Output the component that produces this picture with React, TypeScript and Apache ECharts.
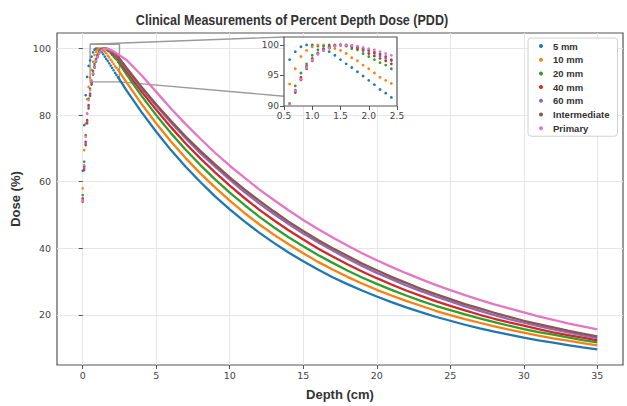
import React, { useEffect, useRef } from "react";
import * as echarts from "echarts";

const titleText = "Clinical Measurements of Percent Depth Dose (PDD)";
const seriesNames = ["5 mm", "10 mm", "20 mm", "40 mm", "60 mm", "Intermediate", "Primary"];
const seriesColors = ["#1f77b4", "#ff7f0e", "#2ca02c", "#d62728", "#9467bd", "#8c564b", "#e377c2"];

// build-up region samples (0 .. 2.4 cm, 0.1 cm step)
const fineDepths = [0, 0.1, 0.2, 0.3, 0.4, 0.5, 0.6, 0.7, 0.8, 0.9, 1.0, 1.1, 1.2, 1.3, 1.4, 1.5, 1.6, 1.7, 1.8, 1.9, 2.0, 2.1, 2.2, 2.3, 2.4];
const fine5mm = [63.3, 77.0, 86.0, 91.5, 94.8, 96.5, 97.6, 98.9, 99.7, 100, 100, 99.8, 99.4, 98.9, 98.3, 97.6, 96.9, 96.3, 95.6, 94.9, 94.2, 93.5, 92.7, 92.1, 91.4];
const fine10mm = [58.0, 69.5, 77.5, 84.8, 88.5, 91.3, 93.6, 96.1, 98.1, 99.1, 99.7, 100, 100, 99.7, 99.4, 99.1, 98.6, 97.9, 97.4, 96.7, 96.1, 95.4, 94.7, 94.2, 93.7];
const fine20mm = [56.0, 66.0, 74.0, 80.5, 85.0, 88.0, 90.4, 93.3, 95.4, 96.9, 98.3, 99.2, 99.8, 100, 100, 100, 99.8, 99.4, 99.2, 98.6, 98.1, 97.6, 97.1, 96.7, 96.1];
const fine40mm = [55.0, 64.5, 72.0, 78.5, 83.0, 86.5, 89.8, 92.6, 94.7, 96.5, 97.8, 98.7, 99.3, 99.7, 99.9, 100, 99.9, 99.7, 99.4, 99.1, 98.6, 98.2, 97.8, 97.4, 96.9];
const fine60mm = [54.5, 64.0, 71.5, 78.0, 82.5, 86.2, 89.5, 92.4, 94.4, 96.4, 97.6, 98.6, 99.2, 99.6, 99.9, 100, 99.9, 99.8, 99.6, 99.3, 99.0, 98.6, 98.2, 97.8, 97.4];
const fineIntermediate = [54.0, 63.5, 71.0, 77.5, 82.0, 85.8, 89.2, 92.2, 94.3, 96.1, 97.4, 98.5, 99.1, 99.5, 99.8, 100, 100, 99.9, 99.7, 99.4, 99.2, 98.8, 98.5, 98.1, 97.6];
const finePrimary = [54.3, 65.0, 73.5, 80.5, 84.5, 87.5, 90.2, 92.5, 94.4, 96.3, 97.5, 98.5, 99.1, 99.5, 99.8, 100, 100, 99.9, 99.8, 99.6, 99.4, 99.2, 98.9, 98.6, 98.3];

// fall-off region samples (3 .. 35 cm, 1 cm step)
const tailDepths = [3, 4, 5, 6, 7, 8, 9, 10, 11, 12, 13, 14, 15, 16, 17, 18, 19, 20, 21, 22, 23, 24, 25, 26, 27, 28, 29, 30, 31, 32, 33, 34, 35];
const tail5mm = [87.3, 80.9, 75.0, 69.5, 64.5, 59.9, 55.6, 51.7, 48.1, 44.7, 41.6, 38.7, 36.1, 33.6, 31.3, 29.2, 27.3, 25.5, 23.8, 22.2, 20.8, 19.4, 18.2, 17.0, 15.9, 14.9, 14.0, 13.1, 12.3, 11.6, 10.9, 10.2, 9.6];
const tail10mm = [89.7, 83.4, 77.5, 72.1, 67.1, 62.5, 58.3, 54.3, 50.6, 47.2, 44.1, 41.2, 38.5, 35.9, 33.6, 31.4, 29.4, 27.5, 25.8, 24.2, 22.7, 21.2, 19.9, 18.7, 17.6, 16.5, 15.5, 14.6, 13.7, 12.9, 12.2, 11.5, 10.8];
const tail20mm = [92.1, 85.8, 80.0, 74.6, 69.6, 65.0, 60.7, 56.7, 53.0, 49.5, 46.3, 43.3, 40.6, 38.0, 35.6, 33.3, 31.2, 29.3, 27.5, 25.8, 24.2, 22.7, 21.4, 20.1, 18.9, 17.8, 16.7, 15.7, 14.8, 14.0, 13.2, 12.4, 11.7];
const tail40mm = [93.1, 87.1, 81.6, 76.4, 71.5, 67.0, 62.8, 58.8, 55.1, 51.6, 48.4, 45.4, 42.6, 39.9, 37.5, 35.2, 33.0, 31.0, 29.1, 27.3, 25.7, 24.1, 22.7, 21.3, 20.0, 18.8, 17.7, 16.7, 15.7, 14.7, 13.9, 13.1, 12.3];
const tail60mm = [93.8, 88.1, 82.8, 77.8, 73.1, 68.6, 64.5, 60.6, 56.9, 53.5, 50.3, 47.3, 44.4, 41.8, 39.3, 36.9, 34.7, 32.6, 30.7, 28.8, 27.1, 25.5, 24.0, 22.5, 21.2, 19.9, 18.7, 17.6, 16.6, 15.6, 14.7, 13.8, 13.0];
const tailIntermediate = [94.1, 88.5, 83.2, 78.3, 73.6, 69.3, 65.2, 61.3, 57.7, 54.3, 51.1, 48.0, 45.2, 42.5, 40.0, 37.7, 35.4, 33.4, 31.4, 29.6, 27.8, 26.2, 24.7, 23.2, 21.9, 20.6, 19.4, 18.2, 17.2, 16.2, 15.2, 14.3, 13.5];
const tailPrimary = [96.5, 92.0, 87.0, 82.0, 77.3, 72.9, 68.7, 64.8, 61.2, 57.7, 54.5, 51.4, 48.5, 45.8, 43.2, 40.8, 38.5, 36.4, 34.4, 32.5, 30.7, 29.0, 27.4, 25.9, 24.5, 23.1, 21.9, 20.7, 19.5, 18.5, 17.4, 16.5, 15.6];

const fineValues = [fine5mm, fine10mm, fine20mm, fine40mm, fine60mm, fineIntermediate, finePrimary];
const tailValues = [tail5mm, tail10mm, tail20mm, tail40mm, tail60mm, tailIntermediate, tailPrimary];

const xTicks = [0, 5, 10, 15, 20, 25, 30, 35];
const yTicks = [20, 40, 60, 80, 100];
const insetXTicks = [0.5, 1.0, 1.5, 2.0, 2.5];
const insetYTicks = [90, 95, 100];
const mainX = [-1.75, 36.75];
const mainY = [4.9, 104.7];
const insetX = [0.5, 2.5];
const insetY = [90, 101.3];

export default function App() {
  const ref = useRef<HTMLDivElement>(null);
  useEffect(() => {
    const chart = echarts.init(ref.current!, null, { renderer: "svg" });
    const tickFont = { fontFamily: "DejaVu Sans", fontSize: 9.5, color: "#444" };
    const boldFont = "Liberation Sans";
    const series: any[] = [];
    seriesNames.forEach((name, k) => {
      const fine = fineValues[k];
      const tail = tailValues[k];
      const color = seriesColors[k];
      const last = fine.length - 1;
      series.push({
        type: "scatter", name, xAxisIndex: 0, yAxisIndex: 0,
        data: fineDepths.map((d, i) => [d, fine[i]]),
        symbolSize: 2.6, itemStyle: { color, opacity: 1 }, silent: true, z: 2,
      });
      series.push({
        type: "line", name, xAxisIndex: 0, yAxisIndex: 0,
        data: [[fineDepths[last], fine[last]], ...tailDepths.map((d, i) => [d, tail[i]])],
        showSymbol: false, symbol: "circle", lineStyle: { width: 2.3, color }, itemStyle: { color },
        silent: true, z: 2,
      });
      series.push({
        type: "scatter", name, xAxisIndex: 1, yAxisIndex: 1,
        data: fineDepths.map((d, i) => [d, fine[i]]).filter((p) => p[0] > insetX[0]),
        symbolSize: 2.8, itemStyle: { color, opacity: 1 }, silent: true, clip: true, z: 3,
      });
    });

    chart.setOption({
      animation: false,
      backgroundColor: "#ffffff",
      grid: [
        { left: 57, top: 33, right: 4, bottom: 36, show: true, borderColor: "#555", borderWidth: 1.2, backgroundColor: "transparent" },
        { left: 284, top: 37, width: 113, height: 69, show: false },
      ],
      legend: {
        orient: "vertical", left: 528, top: 38,
        padding: [2, 8, 2, 11], itemWidth: 4, itemHeight: 4, itemGap: 1.7,
        backgroundColor: "#fff", borderColor: "#d0d0d0", borderWidth: 1, borderRadius: 3,
        data: seriesNames.map((n) => ({ name: n, icon: "circle" })),
        textStyle: { fontFamily: boldFont, fontWeight: "bold", fontSize: 9.5, color: "#333", lineHeight: 12, padding: [0, 0, 0, 5] },
        selectedMode: false,
      },
      xAxis: [
        {
          type: "value", gridIndex: 0, min: mainX[0], max: mainX[1], splitNumber: 8,
          name: "Depth (cm)", nameLocation: "middle", nameGap: 23,
          nameTextStyle: { fontFamily: boldFont, fontWeight: "bold", fontSize: 13, color: "#333" },
          axisLine: { show: false },
          axisTick: { show: true, length: 4, customValues: xTicks, lineStyle: { color: "#555" } },
          axisLabel: { ...tickFont, margin: 5, customValues: xTicks },
          splitLine: { show: true, lineStyle: { color: "#e6e6e6", width: 1 } },
        },
        {
          type: "value", gridIndex: 1, min: insetX[0], max: insetX[1], splitNumber: 4,
          axisLine: { show: false },
          axisTick: { show: true, length: 4, customValues: insetXTicks, lineStyle: { color: "#555" } },
          axisLabel: { ...tickFont, fontSize: 9, margin: 5, customValues: insetXTicks, formatter: (v: number) => v.toFixed(1) },
          splitLine: { show: false },
        },
      ],
      yAxis: [
        {
          type: "value", gridIndex: 0, min: mainY[0], max: mainY[1], splitNumber: 5,
          name: "Dose (%)", nameLocation: "middle", nameGap: 28,
          nameTextStyle: { fontFamily: boldFont, fontWeight: "bold", fontSize: 13, color: "#333" },
          axisLine: { show: false },
          axisTick: { show: true, length: 4, customValues: yTicks, lineStyle: { color: "#555" } },
          axisLabel: { ...tickFont, margin: 6, customValues: yTicks },
          splitLine: { show: true, lineStyle: { color: "#e6e6e6", width: 1 } },
        },
        {
          type: "value", gridIndex: 1, min: insetY[0], max: insetY[1], splitNumber: 2,
          axisLine: { show: false },
          axisTick: { show: true, length: 4, customValues: insetYTicks, lineStyle: { color: "#555" } },
          axisLabel: { ...tickFont, fontSize: 9, margin: 5, customValues: insetYTicks },
          splitLine: { show: false },
        },
      ],
      series,
    });

    const px = (g: number, v: number[]) => chart.convertToPixel({ gridIndex: g } as any, v) as number[];
    const insTL = px(1, [insetX[0], insetY[1]]);
    const insBR = px(1, [insetX[1], insetY[0]]);
    const mTL = px(0, [insetX[0], insetY[1]]);
    const mBR = px(0, [insetX[1], insetY[0]]);
    const t = (insTL[0] - mBR[0]) / (insBR[0] - mBR[0]);
    const lowY = mBR[1] + t * (insBR[1] - mBR[1]);

    chart.setOption({
      graphic: [
        {
          type: "text", x: 292, y: 20, z: 5, scaleX: 0.81,
          style: { text: titleText, align: "center", verticalAlign: "middle", fontFamily: boldFont, fontWeight: "bold", fontSize: 15.5, fill: "#333" },
        },
        {
          type: "rect", z: 1,
          shape: { x: mTL[0], y: mTL[1], width: mBR[0] - mTL[0], height: mBR[1] - mTL[1] },
          style: { fill: "none", stroke: "#9a9a9a", lineWidth: 1.4 },
        },
        {
          type: "line", z: 1,
          shape: { x1: mTL[0], y1: mTL[1], x2: insTL[0], y2: insTL[1] },
          style: { stroke: "#9a9a9a", lineWidth: 1.4 },
        },
        {
          type: "line", z: 1,
          shape: { x1: mBR[0], y1: mBR[1], x2: insTL[0], y2: lowY },
          style: { stroke: "#9a9a9a", lineWidth: 1.4 },
        },
        {
          type: "rect", z: 1,
          shape: { x: insTL[0], y: insTL[1], width: insBR[0] - insTL[0], height: insBR[1] - insTL[1] },
          style: { fill: "#ffffff", stroke: "#555", lineWidth: 1.2 },
        },
      ],
    });

    return () => chart.dispose();
  }, []);
  return (
    <div style={{ position: "absolute", left: 0, top: 0, width: 627, height: 406, background: "#fff" }}>
      <div ref={ref} style={{ width: 627, height: 406 }} />
    </div>
  );
}
